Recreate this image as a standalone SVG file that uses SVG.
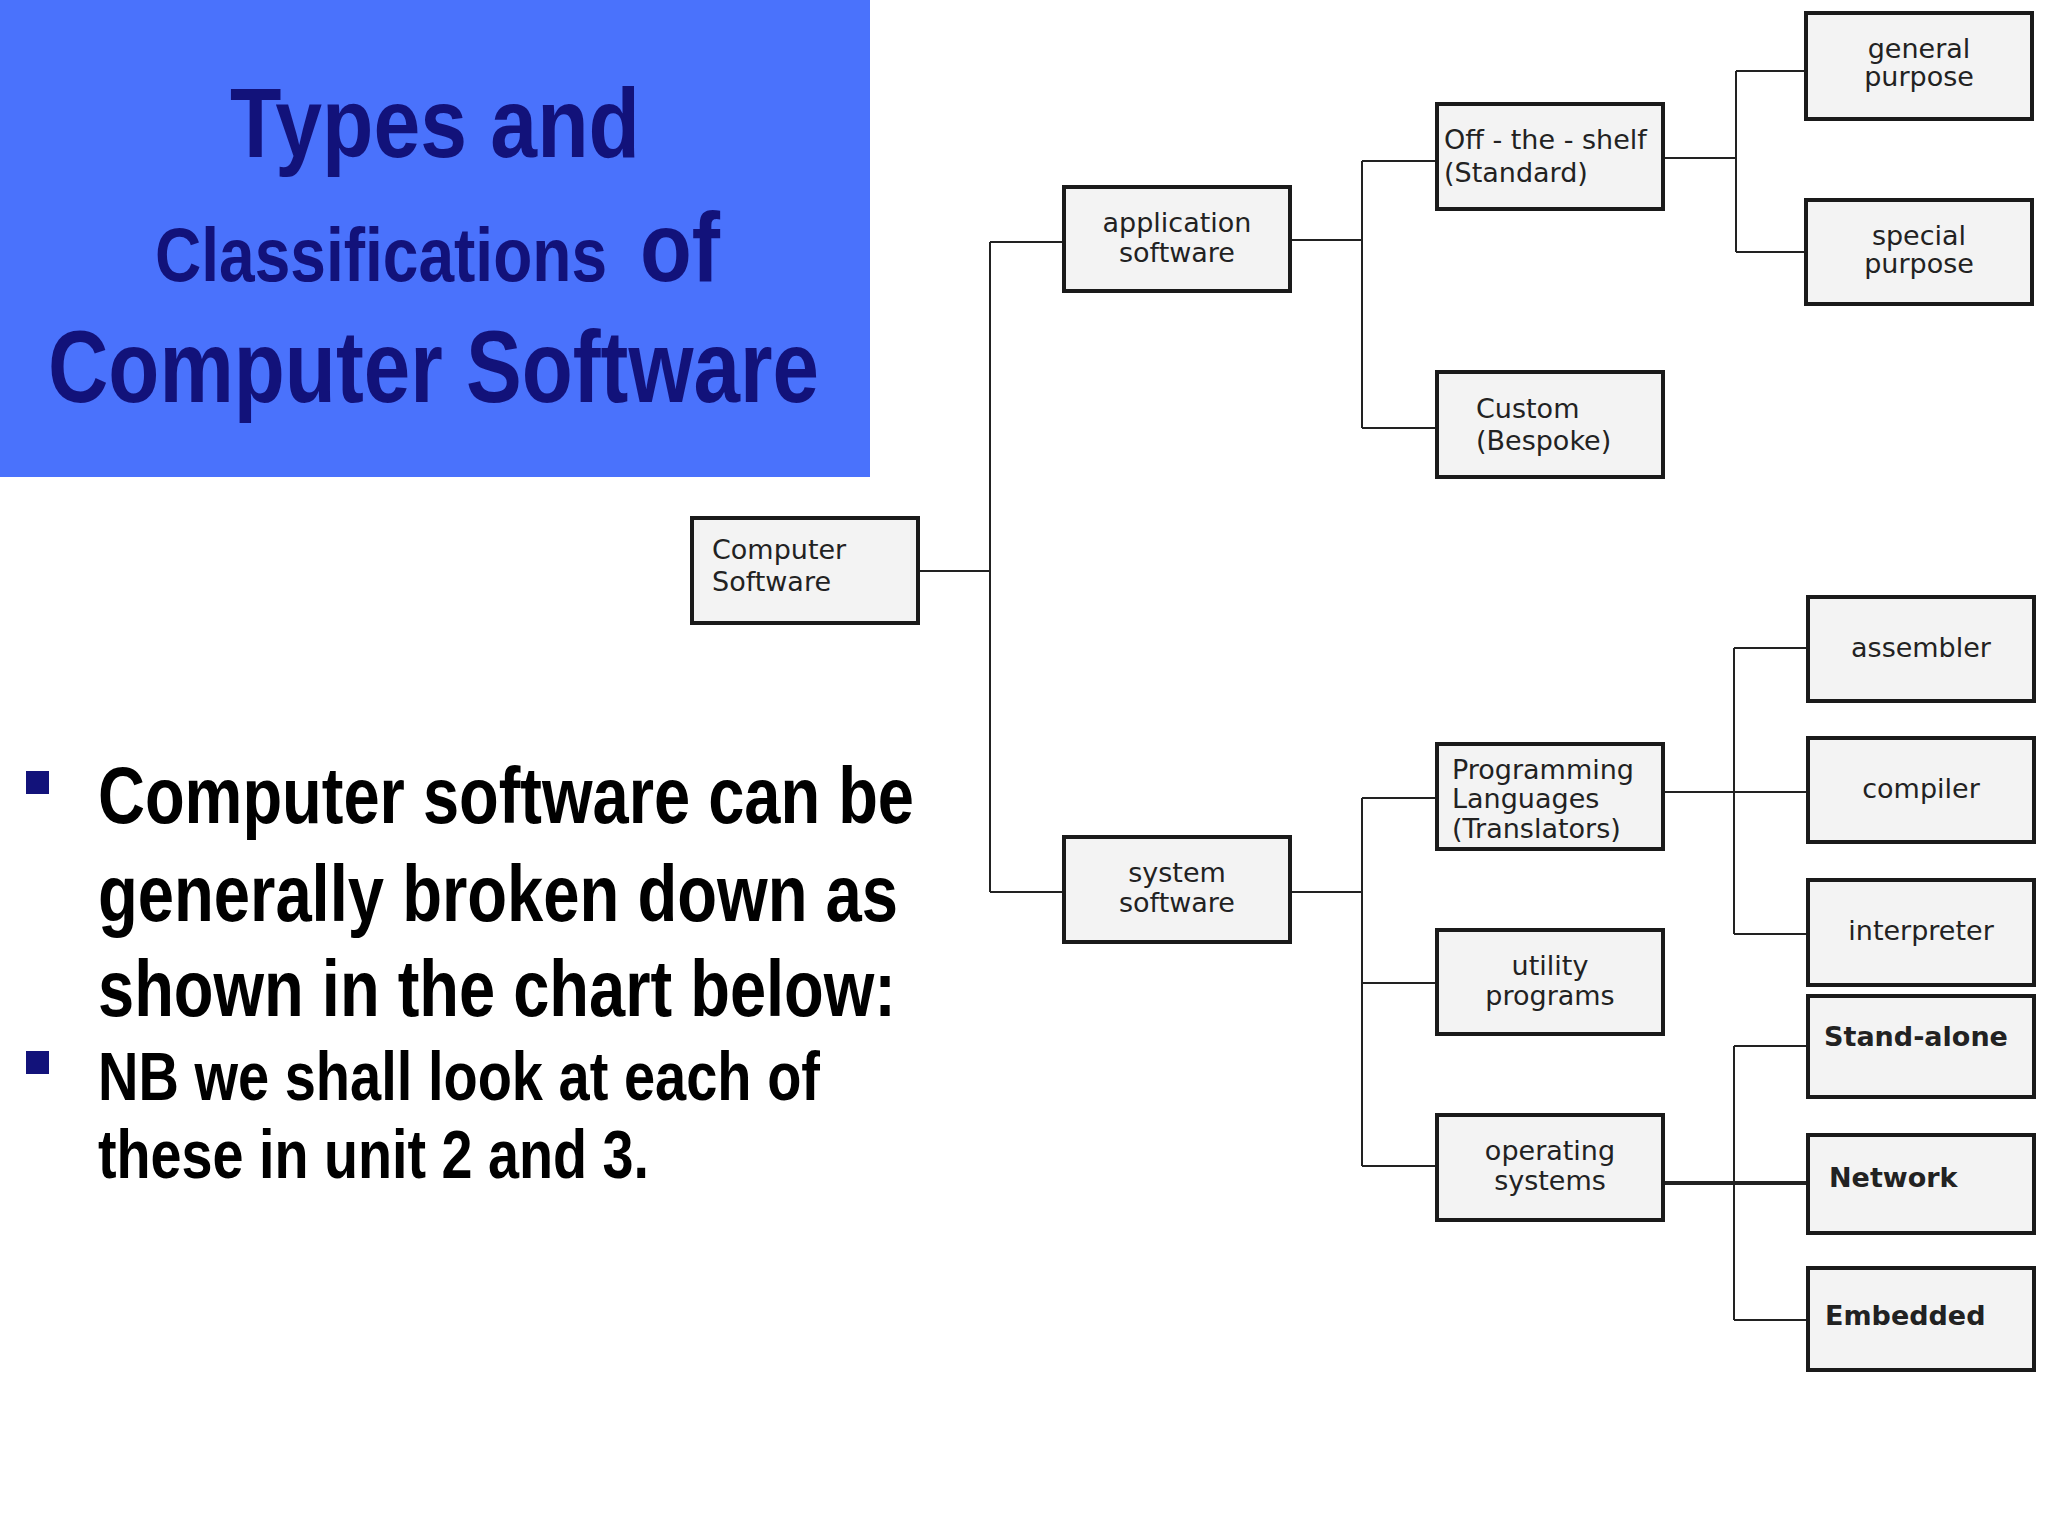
<svg xmlns="http://www.w3.org/2000/svg" width="2048" height="1536" viewBox="0 0 2048 1536">
<style>
.b{fill:#f3f3f3;stroke:#1a1a1a;stroke-width:4}
.t{font-family:"DejaVu Sans",sans-serif;font-size:27px;fill:#222;text-anchor:middle}
.tl{font-family:"DejaVu Sans",sans-serif;font-size:27px;fill:#222}
.bd{font-weight:bold}
.h{font-family:"Liberation Sans",Arial,sans-serif;font-weight:bold;fill:#12127a}
.p{font-family:"Liberation Sans",Arial,sans-serif;font-weight:bold;fill:#000}
.c{stroke:#222;stroke-width:2;fill:none}
</style>
<rect width="2048" height="1536" fill="#fff"/>
<g id="title">
<rect x="0" y="0" width="870" height="477" fill="#4a72fc"/>
<text class="h" x="435" y="157" font-size="98" text-anchor="middle" textLength="410" lengthAdjust="spacingAndGlyphs">Types and</text>
<text class="h" x="155" y="281" font-size="76" textLength="452" lengthAdjust="spacingAndGlyphs">Classifications</text>
<text class="h" x="640" y="281" font-size="98" textLength="80" lengthAdjust="spacingAndGlyphs">of</text>
<text class="h" x="48" y="402" font-size="102" textLength="771" lengthAdjust="spacingAndGlyphs">Computer Software</text>
</g>
<g id="bullets">
<rect x="26" y="771" width="23" height="23" fill="#12127a"/>
<rect x="26" y="1051" width="23" height="23" fill="#12127a"/>
<text class="p" x="98" y="823" font-size="80" textLength="816" lengthAdjust="spacingAndGlyphs">Computer software can be</text>
<text class="p" x="98" y="921" font-size="80" textLength="800" lengthAdjust="spacingAndGlyphs">generally broken down as</text>
<text class="p" x="98" y="1016" font-size="80" textLength="798" lengthAdjust="spacingAndGlyphs">shown in the chart below:</text>
<text class="p" x="98" y="1100" font-size="68" textLength="722" lengthAdjust="spacingAndGlyphs">NB we shall look at each of</text>
<text class="p" x="98" y="1178" font-size="68" textLength="551" lengthAdjust="spacingAndGlyphs">these in unit 2 and 3.</text>
</g>
<g id="connectors">
<path class="c" d="M918 571H990M990 242V892M990 242H1064M990 892H1064"/>
<path class="c" d="M1290 240H1362M1362 161V428M1362 161H1437M1362 428H1437"/>
<path class="c" d="M1663 158H1736M1736 71V252M1736 71H1806M1736 252H1806"/>
<path class="c" d="M1290 892H1362M1362 798V1166M1362 798H1437M1362 983H1437M1362 1166H1437"/>
<path class="c" d="M1663 792H1808M1734 648V934M1734 648H1808M1734 934H1808"/>
<path class="c" d="M1734 1046V1320M1734 1046H1808M1734 1320H1808"/>
<path d="M1663 1183H1808" stroke="#222" stroke-width="4"/>
</g>
<g id="n-cs"><rect class="b" x="692" y="518" width="226" height="105"/><text class="tl" x="712" y="559">Computer</text><text class="tl" x="712" y="591">Software</text></g>
<g id="n-app"><rect class="b" x="1064" y="187" width="226" height="104"/><text class="t" x="1177" y="232">application</text><text class="t" x="1177" y="262">software</text></g>
<g id="n-sys"><rect class="b" x="1064" y="837" width="226" height="105"/><text class="t" x="1177" y="882">system</text><text class="t" x="1177" y="912">software</text></g>
<g id="n-off"><rect class="b" x="1437" y="104" width="226" height="105"/><text class="tl" x="1444" y="149">Off - the - shelf</text><text class="tl" x="1444" y="182">(Standard)</text></g>
<g id="n-custom"><rect class="b" x="1437" y="372" width="226" height="105"/><text class="tl" x="1476" y="418">Custom</text><text class="tl" x="1476" y="450">(Bespoke)</text></g>
<g id="n-gen"><rect class="b" x="1806" y="13" width="226" height="106"/><text class="t" x="1919" y="58">general</text><text class="t" x="1919" y="86">purpose</text></g>
<g id="n-spe"><rect class="b" x="1806" y="200" width="226" height="104"/><text class="t" x="1919" y="245">special</text><text class="t" x="1919" y="273">purpose</text></g>
<g id="n-prog"><rect class="b" x="1437" y="744" width="226" height="105"/><text class="tl" x="1452" y="779" font-size="25">Programming</text><text class="tl" x="1452" y="808" font-size="25">Languages</text><text class="tl" x="1452" y="838" font-size="25">(Translators)</text></g>
<g id="n-util"><rect class="b" x="1437" y="930" width="226" height="104"/><text class="t" x="1550" y="975">utility</text><text class="t" x="1550" y="1005">programs</text></g>
<g id="n-os"><rect class="b" x="1437" y="1115" width="226" height="105"/><text class="t" x="1550" y="1160">operating</text><text class="t" x="1550" y="1190">systems</text></g>
<g id="n-asm"><rect class="b" x="1808" y="597" width="226" height="104"/><text class="t" x="1921" y="657">assembler</text></g>
<g id="n-comp"><rect class="b" x="1808" y="738" width="226" height="104"/><text class="t" x="1921" y="798">compiler</text></g>
<g id="n-int"><rect class="b" x="1808" y="880" width="226" height="105"/><text class="t" x="1921" y="940">interpreter</text></g>
<g id="n-sa"><rect class="b" x="1808" y="996" width="226" height="101"/><text class="t bd" x="1916" y="1046">Stand-alone</text></g>
<g id="n-net"><rect class="b" x="1808" y="1135" width="226" height="98"/><text class="tl bd" x="1829" y="1187">Network</text></g>
<g id="n-emb"><rect class="b" x="1808" y="1268" width="226" height="102"/><text class="tl bd" x="1825" y="1325">Embedded</text></g>
</svg>
